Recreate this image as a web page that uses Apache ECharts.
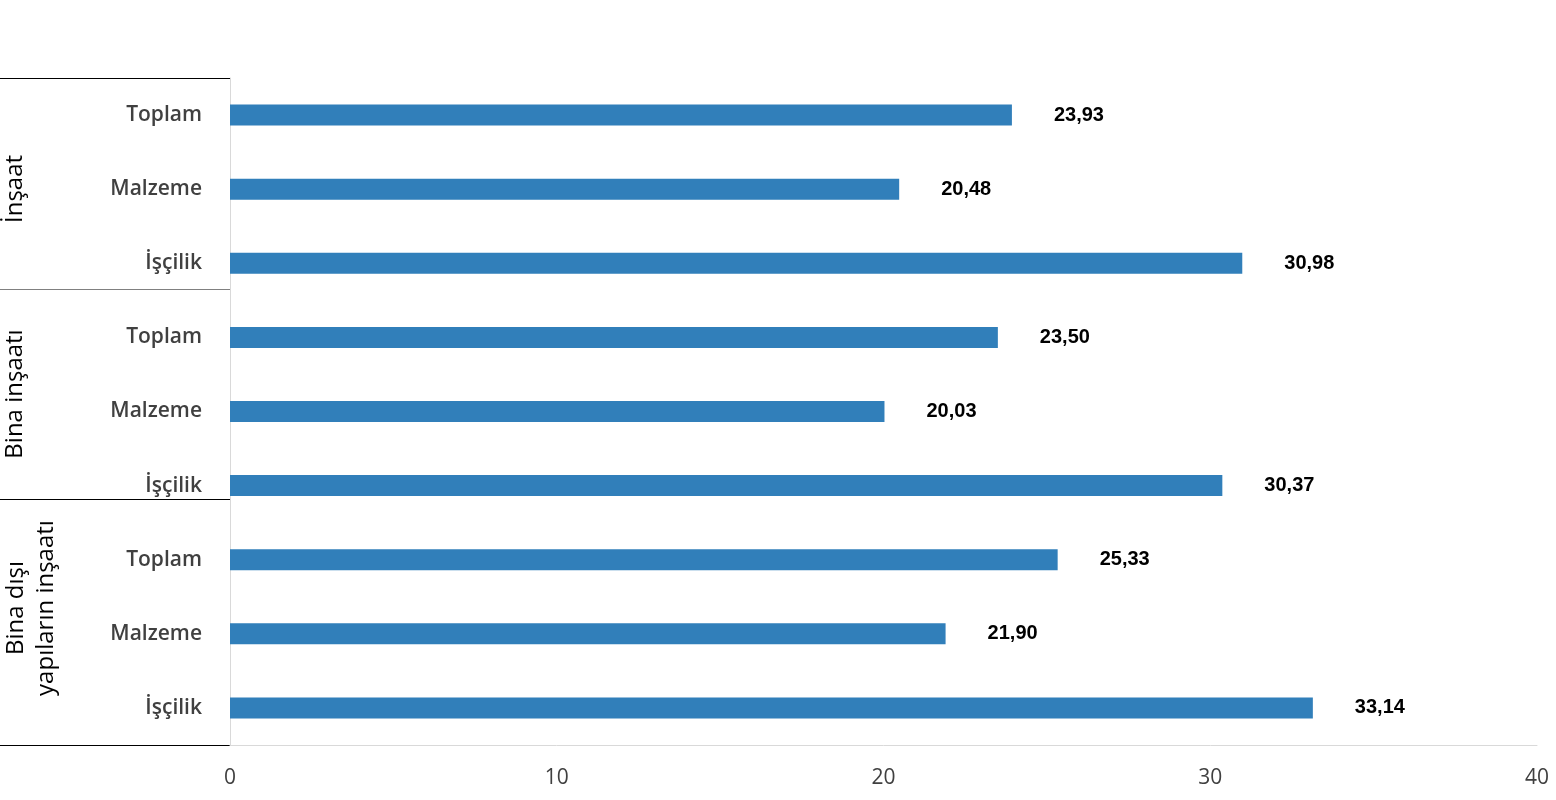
<!DOCTYPE html>
<html><head><meta charset="utf-8">
<script src="https://cdn.jsdelivr.net/npm/echarts@6/dist/echarts.min.js"></script>
<style>html,body{margin:0;padding:0;background:#fff}#c{width:1556px;height:800px}</style>
</head><body><div id="c"></div>
<script>
const categories = ['Toplam','Malzeme','İşçilik','Toplam','Malzeme','İşçilik','Toplam','Malzeme','İşçilik'];
const values = [23.93, 20.48, 30.98, 23.50, 20.03, 30.37, 25.33, 21.90, 33.14];
const groups = ['İnşaat', 'Bina inşaatı', 'Bina dışı\nyapıların inşaatı'];
const xTicks = [0, 10, 20, 30, 40];

const chart = echarts.init(document.getElementById('c'));
const fontFam = '"Open Sans", "Noto Sans", sans-serif';
chart.setOption({
  animation: false,
  grid: {left: 230, right: 19, top: 78, bottom: 55},
  xAxis: {
    type: 'value', min: xTicks[0], max: xTicks[xTicks.length-1], interval: 10,
    axisLine: {show: true, lineStyle: {color: '#d9d9d9', width: 1}},
    axisTick: {show: false},
    splitLine: {show: false},
    axisLabel: {color: '#404040', fontSize: 21, fontFamily: fontFam, margin: 23}
  },
  yAxis: {
    type: 'category', inverse: true, data: categories,
    axisLine: {show: true, lineStyle: {color: '#d9d9d9', width: 1}},
    axisTick: {show: false},
    axisLabel: {color: '#404040', fontSize: 21, fontWeight: 600, fontFamily: fontFam, margin: 28}
  },
  series: [{
    type: 'bar', data: values, barWidth: 21,
    itemStyle: {color: '#317fba'},
    label: {show: true, position: 'right', distance: 42, color: '#000',
      fontWeight: 'bold', fontSize: 20, fontFamily: '"Liberation Sans", Arial, sans-serif',
      formatter: p => p.value.toFixed(2).replace('.', ',')}
  }],
  graphic: [
    {type: 'line', shape: {x1: 0, y1: 78.5, x2: 230, y2: 78.5}, style: {stroke: '#000', lineWidth: 1}},
    {type: 'line', shape: {x1: 0, y1: 289.5, x2: 230, y2: 289.5}, style: {stroke: '#808080', lineWidth: 1}},
    {type: 'line', shape: {x1: 0, y1: 499.5, x2: 230, y2: 499.5}, style: {stroke: '#000', lineWidth: 1}},
    {type: 'line', shape: {x1: 0, y1: 745.5, x2: 230, y2: 745.5}, style: {stroke: '#000', lineWidth: 1}},
    {type: 'text', x: 15, y: 189, rotation: Math.PI/2,
      style: {text: groups[0], fill: '#000', fontSize: 24, fontFamily: fontFam, align: 'center', verticalAlign: 'middle'}},
    {type: 'text', x: 15, y: 394, rotation: Math.PI/2,
      style: {text: groups[1], fill: '#000', fontSize: 24, fontFamily: fontFam, align: 'center', verticalAlign: 'middle'}},
    {type: 'text', x: 31, y: 608, rotation: Math.PI/2,
      style: {text: groups[2], fill: '#000', fontSize: 24, fontFamily: fontFam, align: 'center', verticalAlign: 'middle', lineHeight: 30}}
  ]
});
</script></body></html>
